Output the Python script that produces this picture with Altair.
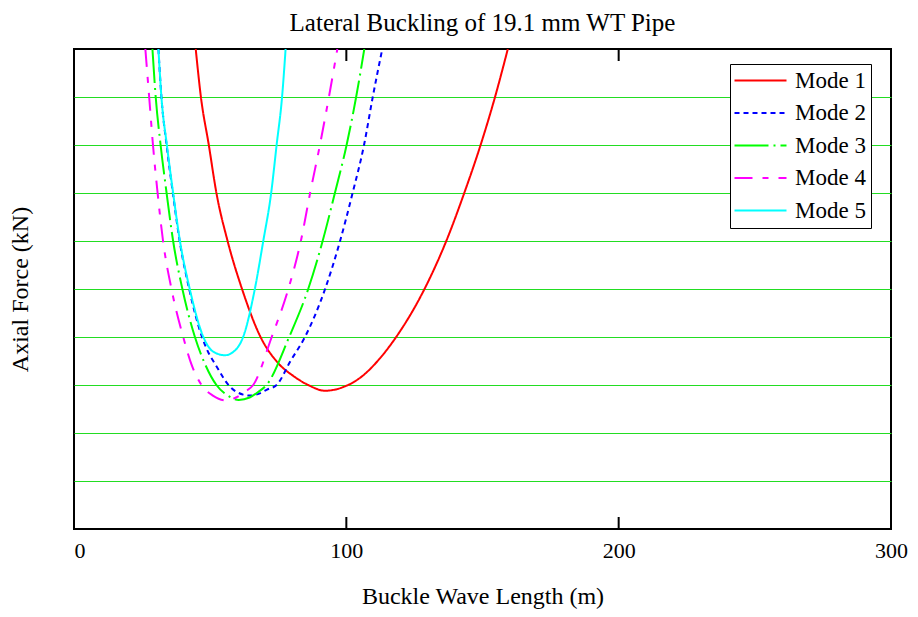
import altair as alt
import pandas as pd

# ---- data (x in m, y in kN, y axis unlabeled) ----
mode1_x = [44.7, 46.6, 49.5, 52.3, 56.4, 61.7, 68.5, 74.9, 80.5, 86.0, 92.2, 99.0, 105.5, 112.4, 118.3, 128.7, 136.7, 143.3, 149.3, 154.6, 159.3]
mode1_y = [1000, 900, 800, 700, 600, 500, 400, 346, 319, 300, 288, 296, 317, 356, 400, 500, 600, 700, 800, 900, 1000]

mode2_x = [31.0, 32.1, 34.0, 36.3, 38.8, 42.3, 47.0, 48.9, 52.3, 57.2, 62.1, 64.6, 67.5, 70.7, 74.4, 79.5, 84.8, 92.2, 97.7, 102.3, 106.5, 109.7, 113.2]
mode2_y = [1000, 900, 800, 700, 600, 500, 400, 373, 339, 297, 280, 278, 281, 290, 300, 350, 400, 500, 600, 700, 800, 900, 1000]

mode3_x = [28.8, 30.0, 31.8, 34.0, 36.4, 39.8, 44.4, 48.0, 52.3, 56.5, 60.5, 64.5, 67.5, 70.7, 79.0, 86.0, 91.3, 95.8, 100.1, 103.6, 106.6]
mode3_y = [1000, 900, 800, 700, 600, 500, 400, 345, 300, 278, 269, 274, 285, 300, 400, 500, 600, 700, 800, 900, 1000]

mode4_x = [26.2, 27.6, 29.0, 30.7, 32.7, 35.8, 40.1, 43.0, 46.8, 51.0, 55.7, 59.5, 62.5, 65.8, 72.6, 78.7, 83.3, 86.7, 90.3, 93.6, 96.7]
mode4_y = [1000, 900, 800, 700, 600, 500, 400, 345, 300, 278, 268, 274, 285, 300, 400, 500, 600, 700, 800, 900, 1000]

mode5_x = [31.0, 32.1, 34.1, 36.4, 38.9, 42.5, 47.5, 51.0, 55.4, 59.3, 62.1, 66.4, 69.5, 72.4, 74.4, 76.4, 77.7]
mode5_y = [1000, 900, 800, 700, 600, 500, 400, 370, 362, 373, 400, 500, 600, 700, 800, 900, 1000]

modes = ["Mode 1", "Mode 2", "Mode 3", "Mode 4", "Mode 5"]
mode_colors = ["#ff0000", "#0000ff", "#00ff00", "#ff00ff", "#00ffff"]
mode_dashes = [[1, 0], [5, 4], [34, 5, 2, 5], [18, 10, 6, 10], [1, 0]]

x_ticks = [0, 100, 200, 300]
inner_ticks = [100, 200]
y_grid = [100, 200, 300, 400, 500, 600, 700, 800, 900]

rows = []
for name, xs, ys in zip(modes, [mode1_x, mode2_x, mode3_x, mode4_x, mode5_x],
                        [mode1_y, mode2_y, mode3_y, mode4_y, mode5_y]):
    for i, (a, b) in enumerate(zip(xs, ys)):
        rows.append({"mode": name, "x": a, "y": b, "i": i})
df = pd.DataFrame(rows)
ticks_df = pd.DataFrame({"x": inner_ticks})

FONT = "Liberation Serif"
W, H = 817, 480
GRID = "#22dd22"

xscale = alt.Scale(domain=[0, 300], nice=False, zero=False)
yscale = alt.Scale(domain=[0, 1000], nice=False, zero=False)

lines = alt.Chart(df).mark_line(strokeWidth=2, clip=True, interpolate="monotone").encode(
    x=alt.X("x:Q", scale=xscale, title="Buckle Wave Length (m)",
            axis=alt.Axis(values=x_ticks, grid=False, ticks=False, domain=False,
                          labelFont=FONT, labelFontSize=22, labelColor="black",
                          labelPadding=11,
                          labelAlign=alt.condition("datum.value == 0", alt.value("left"), alt.value("center")),
                          titleFont=FONT, titleFontSize=24, titleFontWeight="normal",
                          titleColor="black", titlePadding=23)),
    y=alt.Y("y:Q", scale=yscale, title="Axial Force (kN)",
            axis=alt.Axis(values=y_grid, grid=True, gridColor=GRID, gridWidth=1,
                          gridOpacity=1, ticks=False, labels=False, domain=False,
                          titleFont=FONT, titleFontSize=24, titleFontWeight="normal",
                          titleColor="black", titlePadding=42)),
    color=alt.Color("mode:N", scale=alt.Scale(domain=modes, range=mode_colors),
                    legend=alt.Legend(title=None)),
    strokeDash=alt.StrokeDash("mode:N", scale=alt.Scale(domain=modes, range=mode_dashes),
                              legend=alt.Legend(title=None)),
    order="i:Q",
)

bottom_ticks = alt.Chart(ticks_df).mark_rule(color="black", strokeWidth=2).encode(
    x=alt.X("x:Q", scale=xscale), y=alt.value(H), y2=alt.value(H - 12))
top_ticks = alt.Chart(ticks_df).mark_rule(color="black", strokeWidth=2).encode(
    x=alt.X("x:Q", scale=xscale), y=alt.value(0), y2=alt.value(12))

chart = alt.layer(lines, bottom_ticks, top_ticks).properties(
    width=W, height=H,
    title=alt.TitleParams("Lateral Buckling of 19.1 mm WT Pipe", font=FONT, fontSize=25,
                          fontWeight="normal", color="black", offset=12, anchor="middle"),
    autosize=alt.AutoSizeParams(type="none"),
    padding={"left": 66, "top": 41, "right": 19, "bottom": 80},
).configure_view(stroke="black", strokeWidth=2).configure_axis(
    gridColor=GRID
).configure_legend(
    orient="none", legendX=656, legendY=15,
    strokeColor="black", fillColor="white", padding=5,
    symbolType="M-1.2,0H4.0", symbolSize=400, symbolStrokeWidth=2,
    labelFont=FONT, labelFontSize=23, labelColor="black", labelOffset=37,
    rowPadding=8.5, cornerRadius=0, labelLimit=300,
)

chart.save("out.html", embed_options={"renderer": "svg", "actions": False})
